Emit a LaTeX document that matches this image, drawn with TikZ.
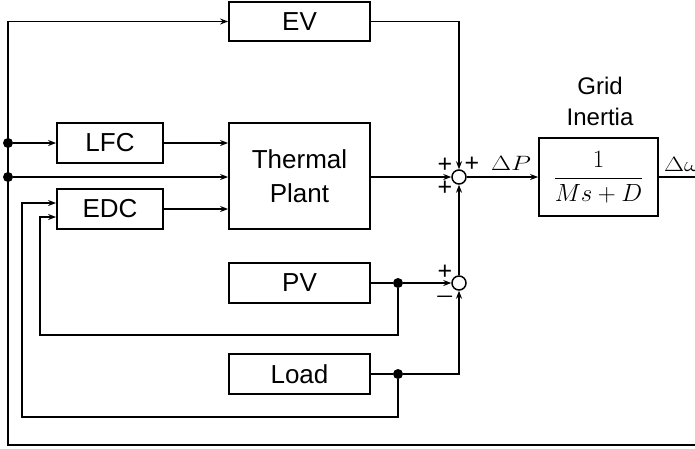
\documentclass[tikz,border=0pt]{standalone}
\usepackage{fontspec}
\usepackage{graphicx}
\setmainfont{Liberation Sans}
\usetikzlibrary{arrows.meta}
\begin{document}
\begin{tikzpicture}[x=1pt,y=-1pt,
  blk/.style={draw,line width=1.8pt,minimum width=141pt,minimum height=40pt,inner sep=0pt,
    font=\fontsize{26}{34}\selectfont,align=center},
  sblk/.style={blk,minimum width=106pt},
  sumc/.style={draw,circle,line width=1.5pt,minimum size=14pt,inner sep=0pt,fill=white},
  dot/.style={circle,fill=black,minimum size=10pt,inner sep=0pt},
  ln/.style={line width=1.6pt},
  arr/.style={ln,-{Stealth[length=8pt,width=6pt]}},
  sgn/.style={font=\fontsize{25}{25}\selectfont,inner sep=0pt,text height=15pt,text depth=0pt},
  mlab/.style={font=\fontsize{21}{21}\selectfont,inner sep=1pt}]
\useasboundingbox (0,0) rectangle (695,448);
\clip (0,0) rectangle (695,448);
% blocks
\node[blk,minimum height=39pt] (ev) at (299.5,21.5) {EV};
\node[sblk] (lfc) at (110,143) {LFC};
\node[sblk] (edc) at (110,209) {EDC};
\node[blk,minimum height=106pt] (tp) at (299.5,176) {Thermal\\Plant};
\node[blk] (pv) at (299.5,283) {PV};
\node[blk] (load) at (299.5,374) {Load};
\node[sumc] (s1) at (459,177) {};
\node[sumc] (s2) at (459,283) {};
\node[draw,line width=1.8pt,minimum width=119pt,minimum height=78pt,inner sep=0pt] (gi) at (598.5,177)
  {\fontsize{27}{30}\selectfont$\displaystyle\frac{1}{Ms+D}$};
\node[font=\fontsize{24}{31}\selectfont,align=center,anchor=south] (gl) at (600,129) {Grid\\Inertia};
% junction dots and corners
\node[dot] (d1) at (8,143) {};
\node[dot] (d2) at (8,177) {};
\node[dot] (d3) at (398,283) {};
\node[dot] (d4) at (398,374) {};
\coordinate (tl) at (8,21.5);
\coordinate (bl) at (8,445);
\coordinate (br) at (695,445);
\coordinate (out) at (695,177);
% connectors
\draw[arr] (br) -- (bl) -- (tl) -- (ev.west);
\draw[arr] (d1) -- (lfc.west);
\draw[arr] (d2) -- (tp.west |- d2);
\draw[arr] (lfc.east) -- (tp.west |- lfc.east);
\draw[arr] (edc.east) -- (tp.west |- edc.east);
\draw[arr] (ev.east) -| (s1.north);
\draw[arr] (tp.east |- s1) -- (s1.west);
\draw[arr] (s2.north) -- (s1.south);
\draw[arr] (s1.east) -- (gi.west);
\node[mlab,anchor=south] (dp) at (511,172) {\scalebox{1.25}[1]{$\Delta P$}};
\draw[ln] (gi.east) -- (out);
\node[mlab,anchor=south west] (dw) at (663,173) {\scalebox{1.25}[1]{$\Delta\omega$}};
\draw[ln] (pv.east) -- (d3);
\draw[arr] (d3) -- (s2.west);
\draw[arr] (d3) -- (398,335) -- (40,335) -- (40,217) -- (edc.west |- 40,217);
\draw[ln] (load.east) -- (d4);
\draw[arr] (d4) -| (s2.south);
\draw[arr] (d4) -- (398,417) -- (22,417) -- (22,203) -- (edc.west |- 22,203);
% signs
\node[sgn] (p1) at (445,165) {+};
\node[sgn] (p2) at (472,164) {+};
\node[sgn] (p3) at (445,188) {+};
\node[sgn] (p4) at (445,272) {+};
\node[sgn,text height=12.5pt] (m1) at (445,299) {\scalebox{1}[1.4]{$-$}};
\end{tikzpicture}
\end{document}
